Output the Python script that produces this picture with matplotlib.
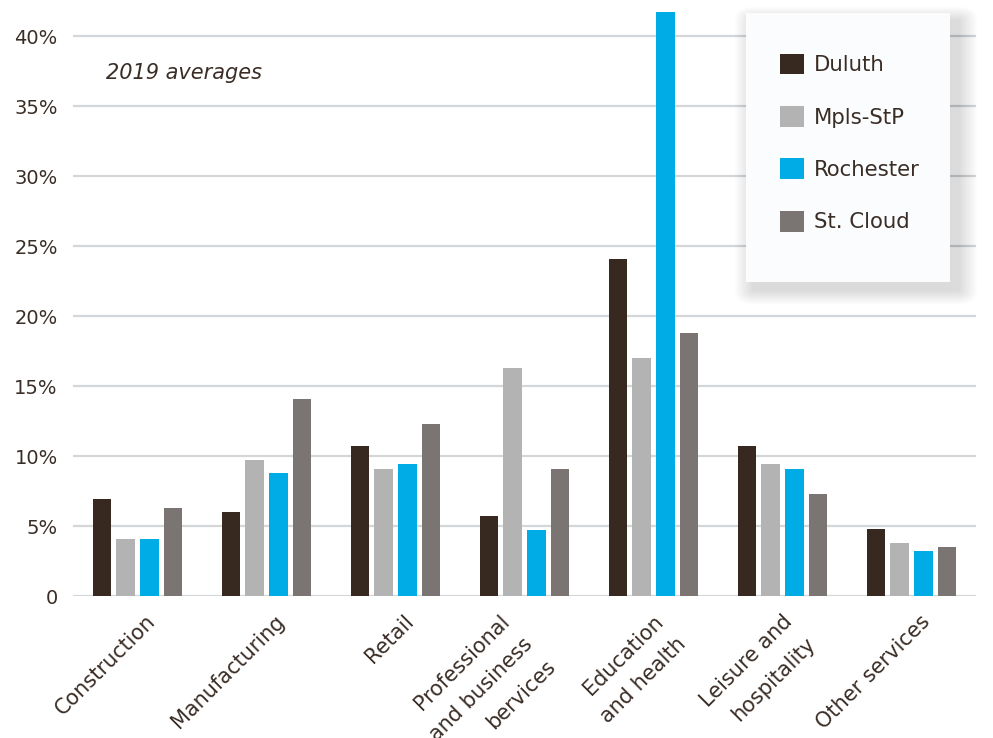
import matplotlib
matplotlib.use('Agg')
import matplotlib.pyplot as plt
import numpy as np
from matplotlib.patches import FancyBboxPatch, Rectangle
from matplotlib.transforms import blended_transform_factory, ScaledTranslation

# ---------------- data ----------------
categories = ["Construction", "Manufacturing", "Retail",
              "Professional\nand business\nbervices", "Education\nand health",
              "Leisure and\nhospitality", "Other services"]
series_names = ["Duluth", "Mpls-StP", "Rochester", "St. Cloud"]
duluth = [6.9, 6.0, 10.7, 5.7, 24.1, 10.7, 4.8]
mpls_stp = [4.1, 9.7, 9.1, 16.3, 17.0, 9.4, 3.8]
rochester = [4.1, 8.8, 9.4, 4.7, 41.7, 9.1, 3.2]
st_cloud = [6.3, 14.1, 12.3, 9.1, 18.8, 7.3, 3.5]
y_ticks = [0, 5, 10, 15, 20, 25, 30, 35, 40]
y_tick_labels = ["0", "5%", "10%", "15%", "20%", "25%", "30%", "35%", "40%"]
note = "2019 averages"

# ---------------- style / layout ----------------
colors = ["#372920", "#b3b3b3", "#00ace6", "#7a7572"]
text_color = "#3a2d26"
grid_color = "#d3d7d9"
label_shift_px = [0, 0, 0, -33, -9, -8, 0]   # horizontal nudge of category labels
plt.rcParams['font.family'] = ['DejaVu Sans']

W, H = 993, 738
fig = plt.figure(figsize=(W / 100, H / 100), dpi=100)
fig.patch.set_facecolor("white")

ax = fig.add_axes([73 / W, 1 - 596 / H, 903 / W, 588 / H])
ax.set_xlim(-0.5, len(categories) - 0.5)
ax.set_ylim(0, 42)

x = np.arange(len(categories))
step = 23.7 / 129
width = 18.5 / 129
all_series = [duluth, mpls_stp, rochester, st_cloud]
for i, (vals, name, c) in enumerate(zip(all_series, series_names, colors)):
    ax.bar(x + (i - 1.5) * step, vals, width=width, color=c, label=name,
           zorder=3, linewidth=0)

ax.set_yticks(y_ticks)
ax.set_yticklabels(y_tick_labels, fontsize=14, color=text_color)
ax.tick_params(axis='y', length=0, pad=11)
ax.set_xticks([])
for s in ax.spines.values():
    s.set_visible(False)
ax.yaxis.grid(True, color=grid_color, linewidth=1.6, zorder=0)
ax.set_axisbelow(True)

# x category labels (rotated)
base = blended_transform_factory(ax.transData, ax.transAxes)
for xi, lab, sh in zip(x, categories, label_shift_px):
    trans = base + ScaledTranslation((8 + sh) / 100, -15 / 100, fig.dpi_scale_trans)
    ax.text(xi, 0, lab, transform=trans, rotation=45, rotation_mode='anchor',
            ha='right', va='top', multialignment='right', fontsize=15,
            color=text_color, linespacing=1.75)

# note
fig.text(106 / W, 1 - 73 / H, note, fontsize=15, style='italic',
         color=text_color, ha='left', va='center')

# legend box with soft shadow
bx0, by0, bw, bh = 746 / W, 1 - 282 / H, 204 / W, 269 / H
for k in range(12):
    off = (k + 1) * 1.6
    fig.patches.append(FancyBboxPatch(
        ((746 + 8) / W, 1 - (282 + 8) / H), 204 / W, 269 / H,
        boxstyle=f"round,pad={off / W},rounding_size={off / W}",
        transform=fig.transFigure, facecolor="#000000", edgecolor='none',
        alpha=0.011, zorder=5))
fig.patches.append(Rectangle((bx0, by0), bw, bh, transform=fig.transFigure,
                             facecolor="#fafcfd", edgecolor='none', zorder=6))

handles, labels = ax.get_legend_handles_labels()
leg = fig.legend(handles, labels, loc='upper left',
                 bbox_to_anchor=(780 / W, 1 - 53.5 / H),
                 bbox_transform=fig.transFigure,
                 frameon=False, fontsize=15.3, handlelength=1.13,
                 handleheight=1.13, handletextpad=0.47, labelspacing=1.45,
                 borderpad=0, borderaxespad=0)
leg.set_zorder(7)
for t in leg.get_texts():
    t.set_color(text_color)

fig.savefig("out.png", dpi=100, facecolor="white")
